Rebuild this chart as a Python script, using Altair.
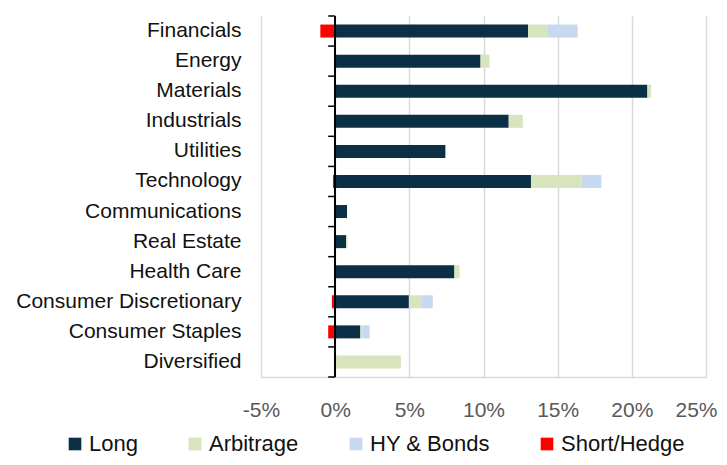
import altair as alt
import pandas as pd

categories = ["Financials", "Energy", "Materials", "Industrials", "Utilities",
              "Technology", "Communications", "Real Estate", "Health Care",
              "Consumer Discretionary", "Consumer Staples", "Diversified"]
long_vals = [13.0, 9.8, 21.05, 11.7, 7.43, 13.2, 0.8, 0.73, 8.04, 4.97, 1.7, 0.0]
arb_vals = [1.35, 0.6, 0.25, 0.95, 0.0, 3.4, 0.0, 0.1, 0.35, 0.83, 0.12, 4.43]
hy_vals = [2.0, 0.0, 0.0, 0.0, 0.0, 1.35, 0.0, 0.0, 0.0, 0.78, 0.5, 0.0]
short_vals = [-1.0, 0.0, 0.0, 0.0, 0.0, -0.15, 0.0, -0.05, 0.0, -0.22, -0.47, 0.0]

series = ["Long", "Arbitrage", "HY & Bonds", "Short/Hedge"]
colors = ["#0b2f45", "#d7e4bd", "#c6d9f1", "#ff0000"]
x_ticks = [-5, 0, 5, 10, 15, 20, 25]

rows = []
for s_i, (name, vals) in enumerate(zip(series, [long_vals, arb_vals, hy_vals, short_vals])):
    for c, v in zip(categories, vals):
        rows.append({"sector": c, "series": name, "value": v, "ord": s_i})
df = pd.DataFrame(rows)
cat_df = pd.DataFrame({"sector": categories})
last_df = pd.DataFrame({"sector": categories[-1:]})

W, H = 445, 361
FONT = "Liberation Sans"
TICK_LEN = 0.47  # tick length in axis units (%)

x_scale = alt.Scale(domain=[-5, 25], nice=False, zero=False)
y_scale = alt.Scale(domain=categories, paddingInner=0, paddingOuter=0)

bars = alt.Chart(df).mark_bar(size=13).encode(
    y=alt.Y("sector:N", scale=y_scale, sort=categories,
            axis=alt.Axis(title=None, domain=False, ticks=False, grid=False,
                          labelFont=FONT, labelFontSize=21, labelColor="#111111",
                          labelPadding=20, orient="left", labelLimit=400)),
    x=alt.X("value:Q", scale=x_scale, stack="zero",
            axis=alt.Axis(title=None, values=x_ticks, labelExpr="datum.value + '%'",
                          ticks=False, domain=True, domainColor="#d9d9d9", domainWidth=1.5,
                          grid=True, gridColor="#d9d9d9", gridWidth=1.5,
                          labelFlush=False, labelBound=False,
                          labelOffset={"condition": {"test": "datum.value == 25", "value": -10},
                                       "value": 0},
                          labelFont=FONT, labelFontSize=21, labelColor="#595959",
                          labelPadding=22)),
    color=alt.Color("series:N", scale=alt.Scale(domain=series, range=colors),
                    legend=alt.Legend(title=None, orient="none", direction="horizontal",
                                      legendX=-197, legendY=417,
                                      symbolType="square", symbolSize=160,
                                      symbolStrokeWidth=0,
                                      labelFont=FONT, labelFontSize=22, labelColor="#111111",
                                      columnPadding=46, labelOffset=3)),
    order=alt.Order("ord:Q"),
)

zero_line = alt.Chart(cat_df).mark_rule(color="#000000", strokeWidth=1.5).encode(
    x=alt.datum(0, scale=x_scale),
)

ticks = alt.Chart(cat_df).mark_rule(color="#000000", strokeWidth=1.5).encode(
    y=alt.Y("sector:N", scale=y_scale, sort=categories, bandPosition=0),
    x=alt.datum(-TICK_LEN, scale=x_scale),
    x2=alt.datum(0),
)

last_tick = alt.Chart(last_df).mark_rule(color="#000000", strokeWidth=1.5).encode(
    y=alt.Y("sector:N", scale=y_scale, sort=categories, bandPosition=1),
    x=alt.datum(-TICK_LEN, scale=x_scale),
    x2=alt.datum(0),
)

chart = alt.layer(bars, zero_line, ticks, last_tick).properties(
    width=W, height=H,
    autosize=alt.AutoSizeParams(type="none"),
    padding={"left": 253, "top": 8, "right": 13, "bottom": 80},
).configure_view(stroke=None)

chart.save("out.html", embed_options={"renderer": "svg", "actions": False})
